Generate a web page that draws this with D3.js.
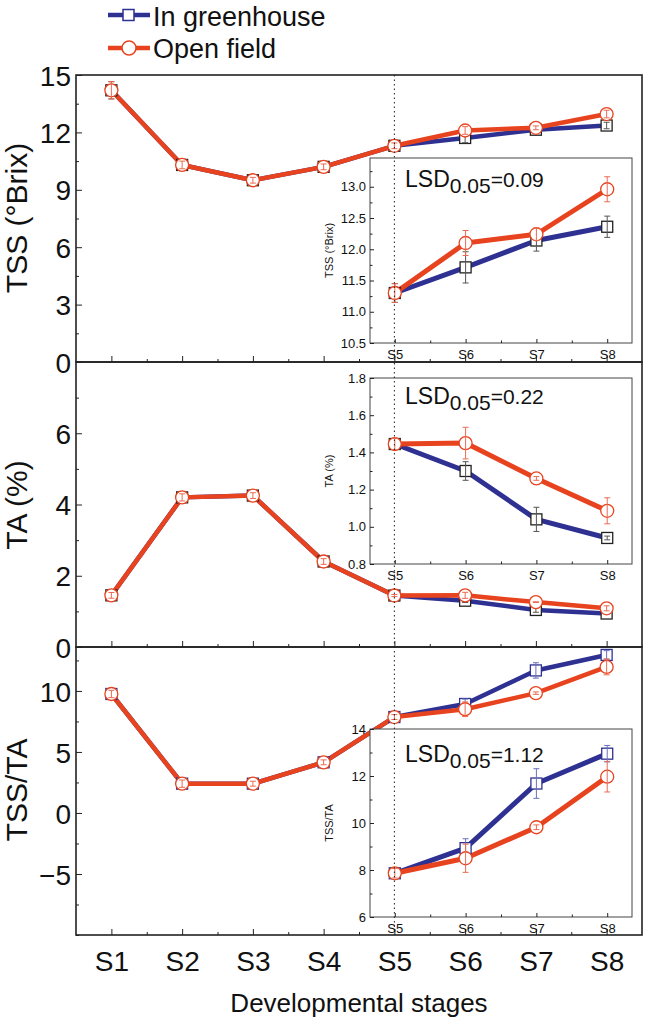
<!DOCTYPE html>
<html><head><meta charset="utf-8">
<script src="https://cdn.jsdelivr.net/npm/d3@7"></script>
<style>body{margin:0;background:#fff}svg{display:block;font-family:"Liberation Sans",Arial,sans-serif}</style>
</head><body><svg id="c" width="645" height="1020"></svg>
<script>
// ---------- data ----------
const stages = ["S1","S2","S3","S4","S5","S6","S7","S8"];
const insetStages = ["S5","S6","S7","S8"];
const seriesNames = ["In greenhouse","Open field"];

const tssGreen    = [14.2, 10.3, 9.5, 10.2, 11.3, 11.71, 12.14, 12.36];
const tssOpen     = [14.2, 10.3, 9.5, 10.2, 11.3, 12.10, 12.24, 12.96];
const tssGreenErr = [0.45, 0.2, 0.15, 0.15, 0.15, 0.25, 0.17, 0.17];
const tssOpenErr  = [0.45, 0.2, 0.15, 0.15, 0.15, 0.2, 0.1, 0.2];

const taGreen     = [1.45, 4.2, 4.25, 2.4, 1.445, 1.30, 1.04, 0.94];
const taOpen      = [1.45, 4.2, 4.25, 2.4, 1.445, 1.45, 1.26, 1.086];
const taGreenErr  = [0.08, 0.1, 0.08, 0.08, 0.03, 0.05, 0.065, 0.01];
const taOpenErr   = [0.08, 0.1, 0.08, 0.08, 0.03, 0.085, 0.01, 0.07];

const ratioGreen    = [9.75, 2.4, 2.4, 4.15, 7.86, 8.93, 11.68, 12.95];
const ratioOpen     = [9.75, 2.4, 2.4, 4.15, 7.86, 8.5, 9.82, 11.97];
const ratioGreenErr = [0.3, 0.3, 0.2, 0.2, 0.2, 0.4, 0.63, 0.35];
const ratioOpenErr  = [0.3, 0.3, 0.2, 0.2, 0.2, 0.6, 0.1, 0.65];

const lsdLabels = ["0.09","0.22","1.12"];
const xTitle = "Developmental stages";

// tick values
const tssTicks = [0,3,6,9,12,15], tssMinor = [1.5,4.5,7.5,10.5,13.5];
const taTicks = [0,2,4,6], taMinor = [1,3,5,7,8];
const ratioTicks = [-5,0,5,10], ratioMinor = [-7.5,-2.5,2.5,7.5,12.5,-10];
const inTssTicks = [10.5,11.0,11.5,12.0,12.5,13.0], inTssMinor = [10.75,11.25,11.75,12.25,12.75,13.25];
const inTaTicks = [0.8,1.0,1.2,1.4,1.6,1.8], inTaMinor = [0.9,1.1,1.3,1.5,1.7];
const inRatioTicks = [6,8,10,12,14], inRatioMinor = [7,9,11,13];

// ---------- style ----------
const BLUE = "#2e3192", RED = "#e8431f", RED_ERR = "#ec6a52";
const svg = d3.select("#c");
const L = 76, R = 642;

const x = d3.scalePoint().domain(stages).range([L, R]).padding(0.5);
const xi = d3.scaleLinear().domain([0, 7]).range([x("S1"), x("S8")]);
const xIn = d3.scalePoint().domain(insetStages).range([370, 632]).padding(0.35);
const xInI = d3.scaleLinear().domain([0, 3]).range([xIn("S5"), xIn("S8")]);

function drawSeries(g, xs, ys, stg, gV, gE, oV, oE, o) {
  const line = d3.line().x(d => xs(d.s)).y(d => ys(d.v));
  const gp = stg.map((s, i) => ({s, v: gV[i], e: gE[i]}));
  const op = stg.map((s, i) => ({s, v: oV[i], e: oE[i]}));
  g.append("path").datum(gp).attr("d", line).attr("fill", "none")
    .attr("stroke", BLUE).attr("stroke-width", o.lw).attr("stroke-linejoin", "round");
  g.append("path").datum(op).attr("d", line).attr("fill", "none")
    .attr("stroke", RED).attr("stroke-width", o.lw).attr("stroke-linejoin", "round");
  const sq = 11;
  g.selectAll(null).data(gp).join("rect")
    .attr("x", d => xs(d.s) - sq/2).attr("y", d => ys(d.v) - sq/2)
    .attr("width", sq).attr("height", sq)
    .attr("fill", "#fff").attr("stroke", o.sqStroke).attr("stroke-width", 1.3);
  errBars(g, xs, ys, gp, o.gErr);
  g.selectAll(null).data(op).join("circle")
    .attr("cx", d => xs(d.s)).attr("cy", d => ys(d.v)).attr("r", 6.5)
    .attr("fill", "#fff").attr("stroke", RED).attr("stroke-width", 1.3);
  errBars(g, xs, ys, op, RED_ERR);
}

function errBars(g, xs, ys, pts, color) {
  const eg = g.append("g").attr("stroke", color).attr("stroke-width", 1);
  pts.forEach(d => {
    const cx = xs(d.s), y1 = ys(d.v - d.e), y2 = ys(d.v + d.e);
    eg.append("line").attr("x1", cx).attr("x2", cx).attr("y1", y1).attr("y2", y2);
    eg.append("line").attr("x1", cx - 3).attr("x2", cx + 3).attr("y1", y1).attr("y2", y1);
    eg.append("line").attr("x1", cx - 3).attr("x2", cx + 3).attr("y1", y2).attr("y2", y2);
  });
}

function styleAxis(sel, size) {
  sel.select(".domain").remove();
  sel.selectAll("line").attr("stroke", "#222").attr("stroke-width", 1);
  sel.selectAll("text").attr("font-size", size).attr("fill", "#111")
    .attr("font-family", "'Liberation Sans',Arial,sans-serif");
}

// ---------- main panels ----------
const panels = [
  {top: 75, bottom: 362, dom: [0, 15], ticks: tssTicks, minor: tssMinor, fmt: d3.format("d"),
   gV: tssGreen, gE: tssGreenErr, oV: tssOpen, oE: tssOpenErr, title: "TSS (°Brix)", ty: 218,
   sqStroke: "#222", gErr: "#555"},
  {top: 362, bottom: 647, dom: [0, 8], ticks: taTicks, minor: taMinor, fmt: d3.format("d"),
   gV: taGreen, gE: taGreenErr, oV: taOpen, oE: taOpenErr, title: "TA (%)", ty: 505,
   sqStroke: "#222", gErr: "#555"},
  {top: 647, bottom: 935, dom: [-10, 13.6], ticks: ratioTicks, minor: ratioMinor, fmt: d3.format("d"),
   gV: ratioGreen, gE: ratioGreenErr, oV: ratioOpen, oE: ratioOpenErr, title: "TSS/TA", ty: 790,
   sqStroke: BLUE, gErr: "#6a70b8"}
];

panels.forEach(p => {
  p.y = d3.scaleLinear().domain(p.dom).range([p.bottom, p.top]);
});

panels.forEach((p, idx) => {
  const g = svg.append("g");
  const ya = g.append("g").attr("transform", `translate(${L},0)`)
    .call(d3.axisLeft(p.y).tickValues(p.ticks).tickSize(-6).tickPadding(5).tickFormat(p.fmt));
  styleAxis(ya, 28);
  ya.selectAll("text").attr("dy", "0.36em");
  const ym = g.append("g").attr("transform", `translate(${L},0)`)
    .call(d3.axisLeft(p.y).tickValues(p.minor).tickSize(-3).tickFormat(""));
  styleAxis(ym, 10);
  const xa = g.append("g").attr("transform", `translate(0,${p.bottom})`)
    .call(d3.axisBottom(x).tickSize(-6).tickPadding(0).tickFormat(idx === 2 ? (d => d) : () => ""));
  styleAxis(xa, 28);
  if (idx === 2) xa.selectAll("text").attr("dy", null).attr("y", 36);
  const xm = g.append("g").attr("transform", `translate(0,${p.bottom})`)
    .call(d3.axisBottom(xi).tickValues([0.5,1.5,2.5,3.5,4.5,5.5,6.5]).tickSize(-3).tickFormat(""));
  styleAxis(xm, 10);
  g.append("rect").attr("x", L).attr("y", p.top).attr("width", R - L).attr("height", p.bottom - p.top)
    .attr("fill", "none").attr("stroke", "#222").attr("stroke-width", 1.6);
  g.append("text").attr("transform", `translate(27,${p.ty}) rotate(-90)`)
    .attr("text-anchor", "middle").attr("font-size", 30).attr("fill", "#111").text(p.title);
  drawSeries(svg.append("g"), x, p.y, stages, p.gV, p.gE, p.oV, p.oE,
    {lw: 4.5, sqStroke: p.sqStroke, gErr: p.gErr});
});

// ---------- insets ----------
const insets = [
  {top: 158, bottom: 343, dom: [10.5, 13.46], ticks: inTssTicks, minor: inTssMinor, fmt: d3.format(".1f"),
   title: "TSS (°Brix)", src: panels[0], lsd: lsdLabels[0], lsdY: 187, sqStroke: "#222", gErr: "#555"},
  {top: 378, bottom: 564, dom: [0.8, 1.8], ticks: inTaTicks, minor: inTaMinor, fmt: d3.format(".1f"),
   title: "TA (%)", src: panels[1], lsd: lsdLabels[1], lsdY: 404, sqStroke: "#222", gErr: "#555"},
  {top: 729, bottom: 917, dom: [6, 14], ticks: inRatioTicks, minor: inRatioMinor, fmt: d3.format("d"),
   title: "TSS/TA", src: panels[2], lsd: lsdLabels[2], lsdY: 762, sqStroke: BLUE, gErr: "#6a70b8"}
];

insets.forEach(q => {
  const g = svg.append("g");
  const y = d3.scaleLinear().domain(q.dom).range([q.bottom, q.top]);
  g.append("rect").attr("x", 370).attr("y", q.top).attr("width", 632 - 370).attr("height", q.bottom - q.top)
    .attr("fill", "#fff").attr("stroke", "#444").attr("stroke-width", 1);
  const ya = g.append("g").attr("transform", "translate(370,0)")
    .call(d3.axisLeft(y).tickValues(q.ticks).tickSize(-4).tickPadding(4).tickFormat(q.fmt));
  styleAxis(ya, 13);
  const ym = g.append("g").attr("transform", "translate(370,0)")
    .call(d3.axisLeft(y).tickValues(q.minor).tickSize(-2.5).tickFormat(""));
  styleAxis(ym, 10);
  const xa = g.append("g").attr("transform", `translate(0,${q.bottom})`)
    .call(d3.axisBottom(xIn).tickSize(-4).tickPadding(0));
  styleAxis(xa, 13);
  xa.selectAll("text").attr("dy", null).attr("y", 16);
  const xm = g.append("g").attr("transform", `translate(0,${q.bottom})`)
    .call(d3.axisBottom(xInI).tickValues([0.5,1.5,2.5]).tickSize(-2.5).tickFormat(""));
  styleAxis(xm, 10);
  g.append("text").attr("transform", `translate(333,${(q.top + q.bottom) / 2}) rotate(-90)`)
    .attr("text-anchor", "middle").attr("font-size", 11).attr("fill", "#111").text(q.title);
  const idx4 = stages.indexOf("S5");
  const s = q.src;
  drawSeries(g, xIn, y, insetStages, s.gV.slice(idx4), s.gE.slice(idx4), s.oV.slice(idx4), s.oE.slice(idx4),
    {lw: 5, sqStroke: q.sqStroke, gErr: q.gErr});
  const t = g.append("text").attr("x", 405).attr("y", q.lsdY).attr("fill", "#111").attr("font-size", 23);
  t.append("tspan").text("LSD");
  t.append("tspan").attr("font-size", 21).attr("dy", 6).text("0.05");
  t.append("tspan").attr("font-size", 21).attr("dy", -6).text("=" + q.lsd);
});

// dotted line at S5
svg.append("line").attr("x1", x("S5")).attr("x2", x("S5")).attr("y1", 75).attr("y2", 935)
  .attr("stroke", "#222").attr("stroke-width", 1).attr("stroke-dasharray", "1.5,3");

// x title
svg.append("text").attr("x", (L + R) / 2).attr("y", 1012).attr("text-anchor", "middle")
  .attr("font-size", 26).attr("fill", "#111").text(xTitle);

// ---------- legend ----------
const lg = svg.append("g");
[{name: seriesNames[0], y: 15, ty: 26, col: BLUE, shape: "sq"}, {name: seriesNames[1], y: 48, ty: 58, col: RED, shape: "ci"}]
.forEach(d => {
  lg.append("line").attr("x1", 108).attr("x2", 150).attr("y1", d.y).attr("y2", d.y)
    .attr("stroke", d.col).attr("stroke-width", 4.5);
  if (d.shape === "sq") lg.append("rect").attr("x", 123).attr("y", d.y - 5.5).attr("width", 11).attr("height", 11)
    .attr("fill", "#fff").attr("stroke", d.col).attr("stroke-width", 1.5);
  else lg.append("circle").attr("cx", 129).attr("cy", d.y).attr("r", 7)
    .attr("fill", "#fff").attr("stroke", d.col).attr("stroke-width", 1.5);
  lg.append("text").attr("x", 153).attr("y", d.ty).attr("font-size", 27).attr("fill", "#111").text(d.name);
});
</script></body></html>
